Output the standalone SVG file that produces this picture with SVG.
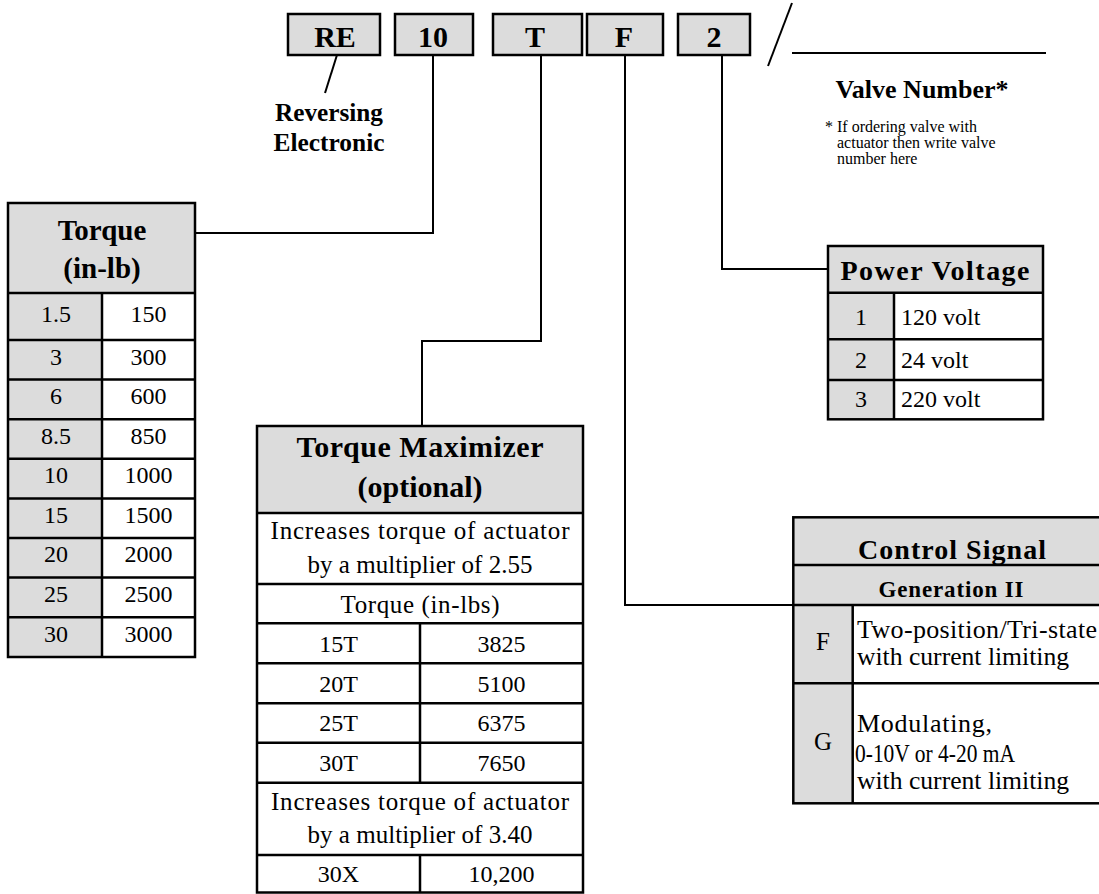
<svg xmlns="http://www.w3.org/2000/svg" width="1099" height="894" viewBox="0 0 1099 894">
<style>
text{font-family:"Liberation Serif","Times New Roman",serif;fill:#000}
.b{font-weight:bold}
.c{text-anchor:middle}
.s24{font-size:24px}
.s25{font-size:25px}
.s26{font-size:26px}
.g{fill:#dcdcdc}
.w{fill:#fff}
.bx{fill:#dcdcdc;stroke:#000;stroke-width:2.5}
.ol{fill:none;stroke:#000;stroke-width:2.5}
.conn{fill:none;stroke:#000;stroke-width:2}
</style>
<rect width="1099" height="894" fill="#fff"/>

<g id="connectors">
<path class="conn" d="M337,55 L325,93"/>
<path class="conn" d="M433,55 V233 H196"/>
<path class="conn" d="M541,55 V341 H422 V426"/>
<path class="conn" d="M625,55 V605 H793"/>
<path class="conn" d="M722,55 V269 H828"/>
<path class="conn" d="M792,3 L768,66"/>
<path class="conn" d="M792,53 H1046"/>
</g>

<g id="code-RE"><rect class="bx" x="288" y="14" width="92" height="41"/><text class="b c" x="335" y="47" font-size="30">RE</text></g>
<g id="code-10"><rect class="bx" x="395" y="14" width="78" height="41"/><text class="b c" x="433" y="47" font-size="30">10</text></g>
<g id="code-T"><rect class="bx" x="493" y="14" width="89" height="41"/><text class="b c" x="535" y="47" font-size="30">T</text></g>
<g id="code-F"><rect class="bx" x="587" y="14" width="76" height="41"/><text class="b c" x="624" y="47" font-size="30">F</text></g>
<g id="code-2"><rect class="bx" x="678" y="14" width="72" height="41"/><text class="b c" x="714" y="47" font-size="30">2</text></g>

<g id="reversing-label">
<text class="b c" x="329" y="121" font-size="25" textLength="108" lengthAdjust="spacingAndGlyphs">Reversing</text>
<text class="b c" x="329" y="151" font-size="25" textLength="111" lengthAdjust="spacingAndGlyphs">Electronic</text>
</g>

<g id="valve-number">
<text class="b c" x="922" y="98" font-size="26">Valve Number*</text>
<text x="825" y="132" font-size="16">* If ordering valve with</text>
<text x="837" y="148" font-size="16">actuator then write valve</text>
<text x="837" y="164" font-size="16">number here</text>
</g>

<g id="torque-table">
<rect class="g" x="8" y="203" width="187" height="90"/>
<rect class="g" x="8" y="293" width="94" height="364"/>
<rect class="w" x="102" y="293" width="93" height="364"/>
<rect class="ol" x="8" y="203" width="187" height="454"/>
<path class="ol" d="M8,293H195M8,340H195M8,379.6H195M8,419.2H195M8,458.8H195M8,498.4H195M8,538H195M8,577.6H195M8,617.2H195M102,293V657"/>
<text class="b c" x="102" y="240" font-size="29">Torque</text>
<text class="b c" x="102" y="278" font-size="29">(in-lb)</text>
<g class="s24">
<text class="c" x="56" y="322">1.5</text><text class="c" x="148.5" y="322">150</text>
<text class="c" x="56" y="364.5">3</text><text class="c" x="148.5" y="364.5">300</text>
<text class="c" x="56" y="404">6</text><text class="c" x="148.5" y="404">600</text>
<text class="c" x="56" y="443.6">8.5</text><text class="c" x="148.5" y="443.6">850</text>
<text class="c" x="56" y="483.2">10</text><text class="c" x="148.5" y="483.2">1000</text>
<text class="c" x="56" y="522.8">15</text><text class="c" x="148.5" y="522.8">1500</text>
<text class="c" x="56" y="562.4">20</text><text class="c" x="148.5" y="562.4">2000</text>
<text class="c" x="56" y="602">25</text><text class="c" x="148.5" y="602">2500</text>
<text class="c" x="56" y="641.6">30</text><text class="c" x="148.5" y="641.6">3000</text>
</g>
</g>

<g id="torque-maximizer">
<rect class="w" x="257" y="426" width="326" height="466.5"/>
<rect class="g" x="257" y="426" width="326" height="87"/>
<rect class="ol" x="257" y="426" width="326" height="466.5"/>
<path class="ol" d="M257,513H583M257,584H583M257,623.3H583M257,663.3H583M257,703.3H583M257,742.7H583M257,782.7H583M257,855H583M420,623.3V782.7M420,855V892.5"/>
<text class="b c" x="420" y="457" font-size="30" textLength="247" lengthAdjust="spacing">Torque Maximizer</text>
<text class="b c" x="420" y="497" font-size="30">(optional)</text>
<text class="c s25" x="420" y="539" textLength="299" lengthAdjust="spacing">Increases torque of actuator</text>
<text class="c s25" x="420" y="573" textLength="225" lengthAdjust="spacing">by a multiplier of 2.55</text>
<text class="c s25" x="420" y="612.5" textLength="159" lengthAdjust="spacing">Torque (in-lbs)</text>
<text class="c s24" x="338.5" y="652">15T</text><text class="c s24" x="501.5" y="652">3825</text>
<text class="c s24" x="338.5" y="691.5">20T</text><text class="c s24" x="501.5" y="691.5">5100</text>
<text class="c s24" x="338.5" y="731">25T</text><text class="c s24" x="501.5" y="731">6375</text>
<text class="c s24" x="338.5" y="770.5">30T</text><text class="c s24" x="501.5" y="770.5">7650</text>
<text class="c s25" x="420" y="809.5" textLength="298" lengthAdjust="spacing">Increases torque of actuator</text>
<text class="c s25" x="420" y="842.5" textLength="225" lengthAdjust="spacing">by a multiplier of 3.40</text>
<text class="c s24" x="338.5" y="881.5">30X</text><text class="c s24" x="501.5" y="881.5">10,200</text>
</g>

<g id="power-voltage">
<rect class="w" x="828" y="246" width="215" height="173.3"/>
<rect class="g" x="828" y="246" width="215" height="46.7"/>
<rect class="g" x="828" y="292.7" width="66" height="126.6"/>
<rect class="ol" x="828" y="246" width="215" height="173.3"/>
<path class="ol" d="M828,292.7H1043M828,339.3H1043M828,380H1043M894,292.7V419.3"/>
<text class="b c" x="935" y="280" font-size="28" textLength="189" lengthAdjust="spacing">Power Voltage</text>
<text class="c s24" x="861" y="325">1</text><text class="s24" x="901" y="325">120 volt</text>
<text class="c s24" x="861" y="368.3">2</text><text class="s24" x="901" y="368.3">24 volt</text>
<text class="c s24" x="861" y="407.3">3</text><text class="s24" x="901" y="407.3">220 volt</text>
</g>

<g id="control-signal">
<rect class="w" x="793.3" y="517.3" width="317" height="286"/>
<rect class="g" x="793.3" y="517.3" width="317" height="87.7"/>
<rect class="g" x="793.3" y="605" width="59.4" height="198.3"/>
<rect class="ol" x="793.3" y="517.3" width="317" height="286"/>
<path class="ol" d="M793.3,565H1110M793.3,605H1110M793.3,683.3H1110M852.7,605V803.3"/>
<text class="b c" x="952" y="559" font-size="28" textLength="188" lengthAdjust="spacing">Control Signal</text>
<text class="b c" x="951" y="597" font-size="23" textLength="145" lengthAdjust="spacing">Generation II</text>
<text class="c s25" x="823" y="650">F</text>
<text class="s26" x="857" y="638" textLength="240" lengthAdjust="spacing">Two-position/Tri-state</text>
<text class="s26" x="857" y="665" textLength="212" lengthAdjust="spacingAndGlyphs">with current limiting</text>
<text class="c s25" x="823" y="750">G</text>
<text class="s26" x="857" y="732" textLength="135" lengthAdjust="spacing">Modulating,</text>
<text class="s26" x="855" y="761.5" textLength="160" lengthAdjust="spacingAndGlyphs">0-10V or 4-20 mA</text>
<text class="s26" x="857" y="788.5" textLength="212" lengthAdjust="spacingAndGlyphs">with current limiting</text>
</g>
</svg>
